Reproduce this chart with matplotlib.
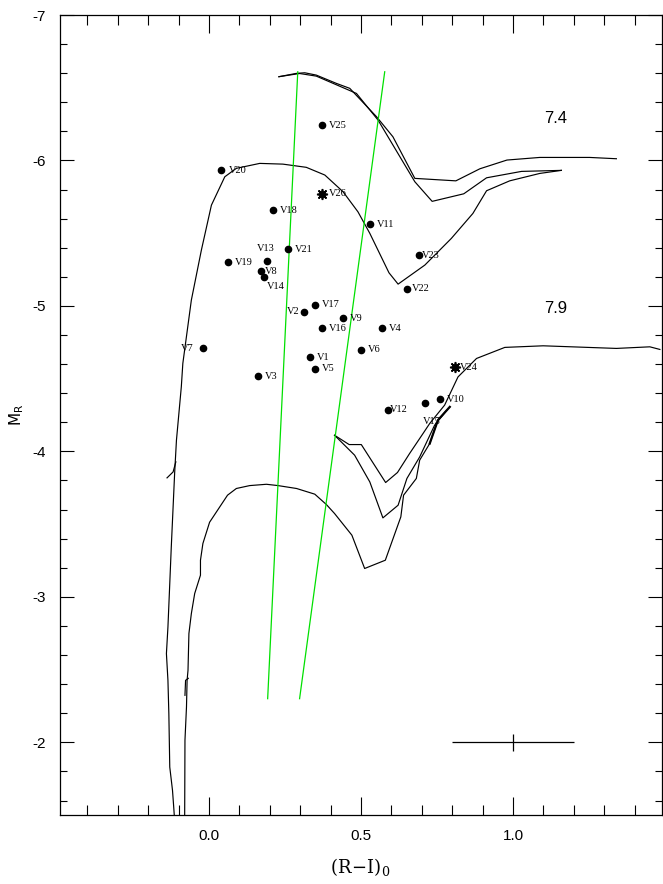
import numpy as np
import matplotlib
matplotlib.use('Agg')
import matplotlib.pyplot as plt
from matplotlib.ticker import MultipleLocator

# variable stars
names = ['V1', 'V2', 'V3', 'V4', 'V5', 'V6', 'V7', 'V8', 'V9', 'V10', 'V11', 'V12',
         'V13', 'V14', 'V15', 'V16', 'V17', 'V18', 'V19', 'V20', 'V21', 'V22', 'V23', 'V25']
ri = [0.331, 0.311, 0.160, 0.570, 0.350, 0.500, -0.020, 0.171, 0.441, 0.761, 0.529, 0.590,
      0.191, 0.181, 0.711, 0.371, 0.350, 0.211, 0.061, 0.041, 0.260, 0.650, 0.691, 0.371]
mr = [-4.648, -4.959, -4.517, -4.847, -4.567, -4.698, -4.710, -5.237, -4.916, -4.357, -5.563, -4.285,
      -5.308, -5.198, -4.336, -4.847, -5.008, -5.659, -5.299, -5.932, -5.391, -5.118, -5.349, -6.241]

# the two stars drawn with an asterisk
ast_names = ['V24', 'V26']
ast_ri = [0.808, 0.371]
ast_mr = [-4.579, -5.771]

# isochrone log t = 7.4
a1_x = [0.230, 0.288, 0.315, 0.353, 0.419, 0.463, 0.551, 0.605, 0.677, 0.812, 0.891, 0.980, 1.088, 1.252, 1.340]
a1_y = [-6.576, -6.599, -6.603, -6.587, -6.530, -6.496, -6.301, -6.163, -5.877, -5.860, -5.943, -6.003, -6.021, -6.021, -6.012]
a2_x = [0.230, 0.298, 0.353, 0.485, 0.556, 0.677, 0.734, 0.838, 0.913, 1.028, 1.159]
a2_y = [-6.576, -6.598, -6.580, -6.461, -6.278, -5.854, -5.719, -5.771, -5.881, -5.925, -5.932]
b_x = [-0.113, -0.116, -0.120, -0.129, -0.132, -0.135, -0.140, -0.135, -0.129, -0.124, -0.118, -0.113,
       -0.107, -0.091, -0.086, -0.058, -0.025, 0.008, 0.052, 0.090, 0.167, 0.243, 0.320, 0.381,
       0.441, 0.490, 0.529, 0.592, 0.622, 0.710, 0.797, 0.868, 0.913, 0.989, 1.088, 1.159]
b_y = [-1.464, -1.555, -1.670, -1.830, -2.197, -2.426, -2.610, -2.793, -3.091, -3.343, -3.618, -3.848,
       -4.077, -4.444, -4.605, -5.040, -5.384, -5.693, -5.888, -5.946, -5.980, -5.975, -5.953, -5.900,
       -5.785, -5.647, -5.499, -5.228, -5.150, -5.281, -5.464, -5.636, -5.792, -5.860, -5.911, -5.932]
bh_x = [-0.109, -0.118, -0.138]
bh_y = [-3.928, -3.859, -3.818]

# isochrone log t = 7.9
c_x = [-0.080, -0.079, -0.074, -0.072, -0.069, -0.066, -0.058, -0.047, -0.028, -0.028, -0.020, 0.002,
       0.061, 0.090, 0.134, 0.189, 0.227, 0.288, 0.348, 0.386, 0.413, 0.470, 0.512, 0.580, 0.631,
       0.640, 0.682, 0.693, 0.726, 0.753, 0.792]
c_y = [-1.464, -2.014, -2.243, -2.426, -2.495, -2.748, -2.885, -3.023, -3.149, -3.252, -3.367, -3.513,
       -3.699, -3.745, -3.765, -3.774, -3.765, -3.745, -3.706, -3.635, -3.573, -3.424, -3.195, -3.252, -3.550,
       -3.699, -3.814, -3.940, -4.054, -4.215, -4.306]
ch_x = [-0.068, -0.077, -0.079]
ch_y = [-2.440, -2.426, -2.323]
d_x = [0.413, 0.461, 0.501, 0.581, 0.620, 0.660, 0.704, 0.726, 0.775, 0.819, 0.880, 0.973, 1.099, 1.340, 1.450, 1.483]
d_y = [-4.111, -4.047, -4.047, -3.786, -3.855, -3.986, -4.123, -4.192, -4.318, -4.512, -4.639, -4.715, -4.726, -4.708, -4.719, -4.701]
e_x = [0.413, 0.479, 0.529, 0.572, 0.622, 0.651, 0.693, 0.742, 0.782]
e_y = [-4.111, -3.974, -3.790, -3.543, -3.630, -3.814, -3.962, -4.180, -4.283]

# instability strip edges
blue_edge_x = [0.193, 0.292]
red_edge_x = [0.298, 0.578]
edge_y = [-2.30, -6.61]

# label offsets (points) and alignment where not the default
label_pos = {'V2': (-3, 0, 'right'), 'V7': (-7, 0, 'right'), 'V13': (-7, 9, 'left'),
             'V14': (2, -7, 'left'), 'V15': (-2, -14, 'left'), 'V8': (3, 0, 'left'),
             'V12': (1, 0, 'left'), 'V23': (2, 0, 'left'), 'V22': (4, 0, 'left'),
             'V24': (4, 0, 'left')}

fig = plt.figure(figsize=(6.63, 8.84), dpi=100)
ax = fig.add_axes([0.0905, 0.078, 0.908, 0.905])

lk = dict(color='black', lw=0.85)
ax.plot(a1_x, a1_y, **lk)
ax.plot(a2_x, a2_y, **lk)
ax.plot(b_x, b_y, **lk)
ax.plot(bh_x, bh_y, **lk)
ax.plot(c_x, c_y, **lk)
ax.plot(c_x[-3:], c_y[-3:], color='black', lw=1.6)
ax.plot(ch_x, ch_y, **lk)
ax.plot(d_x, d_y, **lk)
ax.plot(e_x, e_y, **lk)

ax.plot(blue_edge_x, edge_y, color='#00e000', lw=0.9)
ax.plot(red_edge_x, edge_y, color='#00e000', lw=0.9)

ax.plot(ri, mr, 'o', color='black', ms=4.5)
ax.plot(ast_ri, ast_mr, marker=(8, 1, 0), ls='none', color='black', ms=7)
ax.plot(ast_ri, ast_mr, marker=(8, 2, 0), ls='none', color='black', ms=8, mew=1)

for n, x, y in zip(names + ast_names, ri + ast_ri, mr + ast_mr):
    dx, dy, ha = label_pos.get(n, (5, 0, 'left'))
    ax.annotate(n, (x, y), xytext=(dx, dy), textcoords='offset points',
                ha=ha, va='center', fontsize=7.5, family='Liberation Serif')

# typical error bar
ax.errorbar([1.0], [-2.0], xerr=[0.2], yerr=[0.06], color='black', lw=0.9, capsize=0)

tf = ['Liberation Sans Narrow', 'Liberation Sans', 'DejaVu Sans']
ax.text(1.14, -6.29, '7.4', fontsize=12, family=tf, ha='center', va='center')
ax.text(1.14, -4.985, '7.9', fontsize=12, family=tf, ha='center', va='center')

ax.set_xlim(-0.49, 1.49)
ax.set_ylim(-1.5, -7)
ax.xaxis.set_major_locator(MultipleLocator(0.5))
ax.xaxis.set_minor_locator(MultipleLocator(0.1))
ax.yaxis.set_major_locator(MultipleLocator(1))
ax.yaxis.set_minor_locator(MultipleLocator(0.2))
ax.tick_params(which='both', direction='in', top=True, right=True, width=0.8)
ax.tick_params(axis='x', which='major', length=13, pad=10)
ax.tick_params(axis='x', which='minor', length=7)
ax.tick_params(axis='y', which='major', length=10, pad=10)
ax.tick_params(axis='y', which='minor', length=5)
ax.set_xticks([0.0, 0.5, 1.0])
ax.set_xticklabels(['0.0', '0.5', '1.0'])
ax.set_yticks([-7, -6, -5, -4, -3, -2])
ax.set_yticklabels(['-7', '-6', '-5', '-4', '-3', '-2'])
for lab in ax.get_xticklabels() + ax.get_yticklabels():
    lab.set_family(tf)
    lab.set_fontsize(11)
for s in ax.spines.values():
    s.set_linewidth(0.9)

fig.text(360 / 663, 1 - 867 / 884, r'$\mathrm{(R\!-\!I)_0}$', ha='center', va='center',
         fontsize=13, math_fontfamily='dejavuserif')
fig.text(17 / 663, 1 - 415 / 884, r'$\mathrm{M_R}$', ha='center', va='center',
         fontsize=11, rotation=90, math_fontfamily='dejavusans')

fig.savefig('out.png', dpi=100)
